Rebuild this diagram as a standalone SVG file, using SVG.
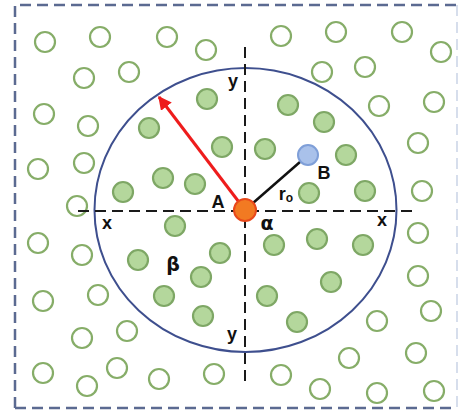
<svg xmlns="http://www.w3.org/2000/svg" width="459" height="412" viewBox="0 0 459 412">
<defs>
<style>
.f{fill:#b4d79c;stroke:#7ea765;stroke-width:2.2}
.h{fill:#ffffff;stroke:#86ad68;stroke-width:2.2}
.ax{stroke:#1a1a1a;stroke-width:2;stroke-dasharray:11 6;fill:none}
.lb{font-family:"Liberation Sans",Arial,sans-serif;font-weight:bold;font-size:18px;fill:#111;text-anchor:middle}
</style>
<marker id="ah" viewBox="0 0 10 10" refX="9" refY="5" markerWidth="4.5" markerHeight="4.5" orient="auto" markerUnits="strokeWidth">
<path d="M0,0 L10,5 L0,10 z" fill="#ee1c1c"/>
</marker>
</defs>
<rect width="459" height="412" fill="#ffffff"/>
<g id="frame">
<path d="M15,408 L15,5 L457,5" fill="none" stroke="#5b6a91" stroke-width="2.5" stroke-dasharray="11 6"/>
<path d="M15,408 L457,408" fill="none" stroke="#5b6a91" stroke-width="2.5" stroke-dasharray="11 6"/>
<path d="M457,5 L457,408" fill="none" stroke="#bcc8e0" stroke-width="1.2" stroke-dasharray="11 6"/>
</g>
<g id="outer-particles">
<circle class="h" cx="45" cy="42" r="10"/>
<circle class="h" cx="100" cy="37" r="10"/>
<circle class="h" cx="167" cy="37" r="10"/>
<circle class="h" cx="206" cy="50" r="10"/>
<circle class="h" cx="84" cy="78" r="10"/>
<circle class="h" cx="129" cy="72" r="10"/>
<circle class="h" cx="44" cy="114" r="10"/>
<circle class="h" cx="88" cy="126" r="10"/>
<circle class="h" cx="38" cy="169" r="10"/>
<circle class="h" cx="84" cy="163" r="10"/>
<circle class="h" cx="77" cy="206" r="10"/>
<circle class="h" cx="281" cy="36" r="10"/>
<circle class="h" cx="336" cy="32" r="10"/>
<circle class="h" cx="402" cy="32" r="10"/>
<circle class="h" cx="441" cy="52" r="10"/>
<circle class="h" cx="322" cy="72" r="10"/>
<circle class="h" cx="365" cy="67" r="10"/>
<circle class="h" cx="379" cy="106" r="10"/>
<circle class="h" cx="434" cy="102" r="10"/>
<circle class="h" cx="418" cy="143" r="10"/>
<circle class="h" cx="422" cy="191" r="10"/>
<circle class="h" cx="38" cy="243" r="10"/>
<circle class="h" cx="82" cy="255" r="10"/>
<circle class="h" cx="43" cy="301" r="10"/>
<circle class="h" cx="98" cy="295" r="10"/>
<circle class="h" cx="82" cy="338" r="10"/>
<circle class="h" cx="127" cy="331" r="10"/>
<circle class="h" cx="43" cy="373" r="10"/>
<circle class="h" cx="87" cy="386" r="10"/>
<circle class="h" cx="117" cy="368" r="10"/>
<circle class="h" cx="159" cy="379" r="10"/>
<circle class="h" cx="214" cy="374" r="10"/>
<circle class="h" cx="418" cy="233" r="10"/>
<circle class="h" cx="418" cy="276" r="10"/>
<circle class="h" cx="431" cy="311" r="10"/>
<circle class="h" cx="377" cy="321" r="10"/>
<circle class="h" cx="349" cy="358" r="10"/>
<circle class="h" cx="416" cy="353" r="10"/>
<circle class="h" cx="281" cy="375" r="10"/>
<circle class="h" cx="320" cy="389" r="10"/>
<circle class="h" cx="377" cy="393" r="10"/>
<circle class="h" cx="434" cy="391" r="10"/>
</g>
<g id="boundary">
<ellipse cx="245.5" cy="210" rx="151" ry="142" fill="none" stroke="#3e4f8e" stroke-width="2"/>
</g>
<g id="inner-particles">
<circle class="f" cx="207" cy="99" r="10"/>
<circle class="f" cx="149" cy="128" r="10"/>
<circle class="f" cx="222" cy="147" r="10"/>
<circle class="f" cx="163" cy="178" r="10"/>
<circle class="f" cx="195" cy="184" r="10"/>
<circle class="f" cx="123" cy="192" r="10"/>
<circle class="f" cx="288" cy="105" r="10"/>
<circle class="f" cx="324" cy="122" r="10"/>
<circle class="f" cx="265" cy="149" r="10"/>
<circle class="f" cx="346" cy="155" r="10"/>
<circle class="f" cx="309" cy="193" r="10"/>
<circle class="f" cx="365" cy="191" r="10"/>
<circle class="f" cx="175" cy="226" r="10"/>
<circle class="f" cx="138" cy="260" r="10"/>
<circle class="f" cx="164" cy="296" r="10"/>
<circle class="f" cx="201" cy="277" r="10"/>
<circle class="f" cx="203" cy="316" r="10"/>
<circle class="f" cx="220" cy="253" r="10"/>
<circle class="f" cx="274" cy="245" r="10"/>
<circle class="f" cx="317" cy="239" r="10"/>
<circle class="f" cx="363" cy="245" r="10"/>
<circle class="f" cx="331" cy="282" r="10"/>
<circle class="f" cx="267" cy="296" r="10"/>
<circle class="f" cx="297" cy="322" r="10"/>
</g>
<g id="connectors">
<line class="ax" x1="78" y1="211" x2="412" y2="211"/>
<line class="ax" x1="245" y1="47" x2="245" y2="381"/>
<line x1="245" y1="210" x2="159" y2="97" stroke="#ee1c1c" stroke-width="3" marker-end="url(#ah)"/>
<line x1="245" y1="210" x2="308" y2="155" stroke="#111" stroke-width="2.5"/>
</g>
<g id="particle-B">
<circle cx="308" cy="155" r="10" fill="#a9c1ea" stroke="#7f9fd8" stroke-width="2"/>
<text class="lb" x="324" y="179">B</text>
</g>
<g id="particle-A">
<circle cx="245" cy="210" r="11" fill="#f27a22" stroke="#e8491b" stroke-width="2"/>
<text class="lb" x="218" y="208">A</text>
</g>
<g id="labels">
<text class="lb" x="233" y="87">y</text>
<text class="lb" x="232" y="340">y</text>
<text class="lb" x="107" y="229">x</text>
<text class="lb" x="382" y="226">x</text>
<text class="lb" x="267" y="230" style="font-family:'DejaVu Sans',sans-serif;font-size:19px">α</text>
<text class="lb" x="286" y="200">r<tspan font-size="12" dy="2">o</tspan></text>
<text class="lb" x="173" y="271" style="font-family:'DejaVu Sans',sans-serif;font-size:19px">β</text>
</g>
</svg>
